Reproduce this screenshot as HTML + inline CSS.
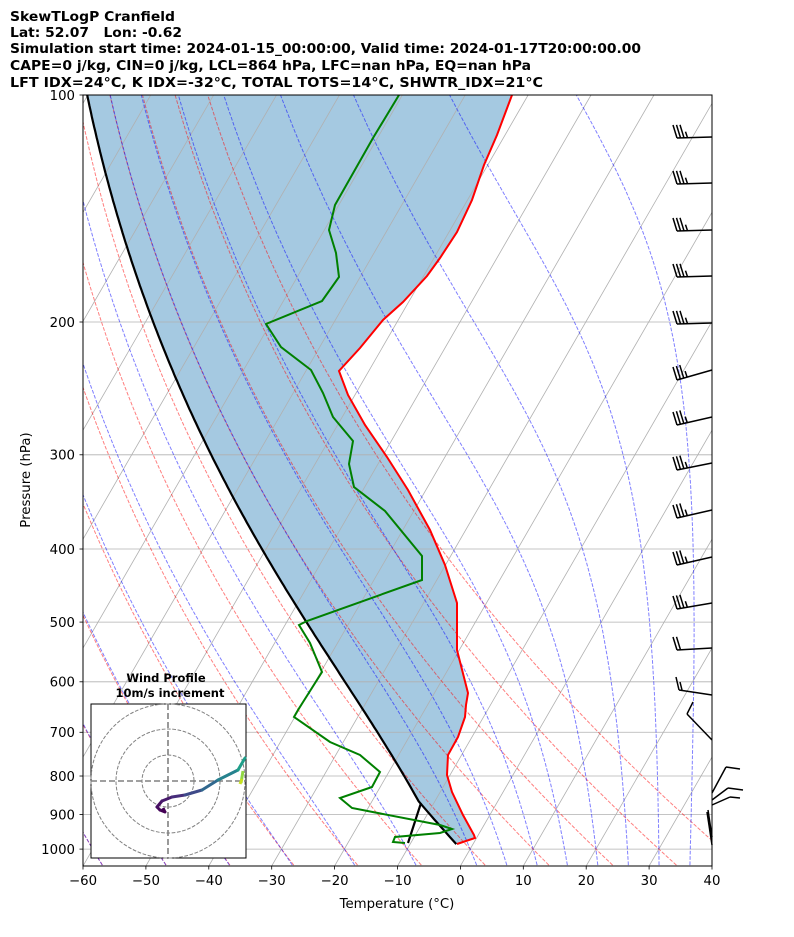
<!DOCTYPE html>
<html><head><meta charset="utf-8"><style>
html,body{margin:0;padding:0;background:#fff;}
svg{display:block;font-family:"DejaVu Sans","Liberation Sans",sans-serif;}
</style></head><body>
<svg id="s" width="794" height="937" xmlns="http://www.w3.org/2000/svg">
<defs><clipPath id="c"><rect x="83" y="95" width="629" height="771"/></clipPath></defs>
<g font-weight="bold" font-size="13.3" fill="#000">
<text x="10" y="21" textLength="165" lengthAdjust="spacingAndGlyphs">SkewTLogP Cranfield</text>
<text x="10" y="37" textLength="172" lengthAdjust="spacingAndGlyphs" xml:space="preserve">Lat: 52.07   Lon: -0.62</text>
<text x="10" y="53" textLength="631" lengthAdjust="spacingAndGlyphs">Simulation start time: 2024-01-15_00:00:00, Valid time: 2024-01-17T20:00:00.00</text>
<text x="10" y="70" textLength="521" lengthAdjust="spacingAndGlyphs">CAPE=0 j/kg, CIN=0 j/kg, LCL=864 hPa, LFC=nan hPa, EQ=nan hPa</text>
<text x="10" y="87" textLength="533" lengthAdjust="spacingAndGlyphs">LFT IDX=24°C, K IDX=-32°C, TOTAL TOTS=14°C, SHWTR_IDX=21°C</text>
</g>
<g id="plot" clip-path="url(#c)"></g>
<g id="over"></g>
<rect x="83" y="95" width="629" height="771" fill="none" stroke="#000" stroke-width="1"/>
<g id="ax" font-size="13.3" fill="#000"></g>
<text x="30" y="480" font-size="13.3" text-anchor="middle" transform="rotate(-90 30 480)">Pressure (hPa)</text>
<text x="397" y="908" font-size="13.3" text-anchor="middle">Temperature (°C)</text>
</svg>
<script>
var NS="http://www.w3.org/2000/svg";
function Y(p){return 95+327.5*Math.log(p/100);}
var K=0.57735;
function X(T,p){return 83+(T+60)*6.29+K*(866-Y(p));}
function el(par,tag,a){var e=document.createElementNS(NS,tag);for(var k in a)e.setAttribute(k,a[k]);par.appendChild(e);return e;}
var plot=document.getElementById('plot'),ax=document.getElementById('ax'),over=document.getElementById('over');
function pts(a){return a.map(function(q){return q[0].toFixed(1)+','+q[1].toFixed(1);}).join(' ');}
// parcel
var Rd=287.04,Cp=1004.67,Lv=2.501e6,eps=0.622;
function es(Tk){var c=Tk-273.15;return 6.112*Math.exp(17.67*c/(c+243.5));}
function dTdlnp(T,p){var e=es(T);var rs=eps*e/(p-e);return (Rd*T+Lv*rs)/(Cp+Lv*Lv*rs*eps/(Rd*T*T));}
function moist(T0,p0,p1,n){var out=[[T0,p0]];var T=T0,lp=Math.log(p0),h=(Math.log(p1)-lp)/n;
 for(var i=0;i<n;i++){var p=Math.exp(lp);var k1=dTdlnp(T,p),k2=dTdlnp(T+h/2*k1,Math.exp(lp+h/2)),k3=dTdlnp(T+h/2*k2,Math.exp(lp+h/2)),k4=dTdlnp(T+h*k3,Math.exp(lp+h));
 T+=h/6*(k1+2*k2+2*k3+k4);lp+=h;out.push([T,Math.exp(lp)]);}return out;}
var parcel=[];var Ts=273.15-2.65,ps=985,pl=864;
for(var i=0;i<=10;i++){var p=ps+(pl-ps)*i/10;parcel.push([X(Ts*Math.pow(p/ps,0.2857)-273.15,p),Y(p)]);}
var Tl=Ts*Math.pow(pl/ps,0.2857);
moist(Tl,pl,100,200).slice(1).forEach(function(q){parcel.push([X(q[0]-273.15,q[1]),Y(q[1])]);});
var temp=[[512,95],[497,135],[484,165],[472,200],[457,232],[440,258],[427,276],[403,302],[383,320],[360,348],[339,371],[348,395],[365,425],[387,457],[408,490],[430,530],[445,565],[457,603],[457,650],[468,693],[466,705],[465,717],[458,737],[448,755],[447,775],[452,792],[463,815],[474,835],[475,838],[457,844]];
var dew=[[399,95],[373,138],[335,205],[329,230],[336,253],[339,277],[322,301],[266,324],[281,347],[311,370],[323,393],[333,417],[353,441],[349,464],[354,487],[385,511],[422,556],[422,580],[307,621],[299,625],[310,643],[322,672],[298,710],[294,717],[330,742],[360,755],[380,772],[372,787],[340,798],[352,808],[440,825],[452,829],[440,833],[395,837],[393,842],[405,843]];
el(plot,'polygon',{points:pts(parcel.concat(temp)),fill:'#1f77b4','fill-opacity':0.4,stroke:'none'});
// grid
for(var p=100;p<=1000;p+=100)el(plot,'line',{x1:83,x2:712,y1:Y(p),y2:Y(p),stroke:'#b0b0b0','stroke-width':0.8});
for(var T=-160;T<=40;T+=10){var x0=83+(T+60)*6.29;el(plot,'line',{x1:x0,y1:866,x2:x0+K*771,y2:95,stroke:'#b0b0b0','stroke-width':0.8});}
// dry adiabats
for(var t0=-60;t0<=40;t0+=10){var a=[];for(var p=1050;p>=100;p-=10){a.push([X((t0+273.15)*Math.pow(p/1000,0.2857)-273.15,p),Y(p)]);}
 el(plot,'polyline',{points:pts(a),fill:'none',stroke:'red','stroke-opacity':0.5,'stroke-width':1,'stroke-dasharray':'3.7,1.6'});}
// moist adiabats
var mt=[];for(var t=-60;t<0;t+=10)mt.push(t);for(var t=0;t<=40;t+=5)mt.push(t);
mt.forEach(function(t0){var up=moist(t0+273.15,1000,100,150),dn=moist(t0+273.15,1000,1050,10);
 var a=dn.reverse().concat(up.slice(1)).map(function(q){return [X(q[0]-273.15,q[1]),Y(q[1])];});
 el(plot,'polyline',{points:pts(a),fill:'none',stroke:'blue','stroke-opacity':0.5,'stroke-width':1,'stroke-dasharray':'3.7,1.6'});});
// traces
el(plot,'polyline',{points:pts(parcel),fill:'none',stroke:'#000','stroke-width':2.2});
el(plot,'polyline',{points:'408,843 421,803',fill:'none',stroke:'#000','stroke-width':2.2});
el(plot,'polyline',{points:pts(temp),fill:'none',stroke:'red','stroke-width':2});
el(plot,'polyline',{points:pts(dew),fill:'none',stroke:'green','stroke-width':2});
// barbs
function line(x1,y1,x2,y2,w){el(over,'line',{x1:x1,y1:y1,x2:x2,y2:y2,stroke:'#000','stroke-width':w||1.5});}
var up=[[137,138,3],[183,184,3],[230,231,3],[276,277,3],[323,324,3],[370,380,3],[417,425,3],[463,470,3],[510,518,3],[557,565,3],[603,609,3],[648,650,2]];
up.forEach(function(b){var y0=b[0],ye=b[1],xe=677;line(712,y0,xe,ye);
 var dx=(712-xe),dy=(y0-ye),L=Math.sqrt(dx*dx+dy*dy),ux=dx/L,uy=dy/L;
 for(var i=0;i<b[2];i++){var bx=xe+ux*3.5*i,by=ye+uy*3.5*i;line(bx,by,bx-4+uy*0,by-13);}
 if(b[2]==3){var bx=xe+ux*10.5,by=ye+uy*10.5;line(bx,by,bx-2,by-6);}});
line(712,695,679,690);line(679,690,676,677);line(682,690,680,682);
line(712,740,687,714);line(687,714,693,702);
line(712,793,726,767);line(726,767,740,769);
line(712,800,728,788);line(728,788,743,790);
line(712,805,730,797);line(730,797,740,798);
line(712,837,708,810);line(712,845,707,812);
// hodograph
el(over,'rect',{x:91,y:704,width:155,height:154,fill:'#fff',stroke:'#000','stroke-width':1});
[26,52,77].forEach(function(r){el(over,'circle',{cx:168,cy:781,r:r,fill:'none',stroke:'#808080','stroke-width':1,'stroke-dasharray':'3.7,1.6'});});
el(over,'line',{x1:168,y1:704,x2:168,y2:858,stroke:'#808080','stroke-width':1.6,'stroke-dasharray':'6,3'});
el(over,'line',{x1:91,y1:781,x2:246,y2:781,stroke:'#808080','stroke-width':1.6,'stroke-dasharray':'6,3'});
var hp=[[165,812],[160,810],[157,807],[162,801],[172,797],[185,795],[202,790],[218,780],[238,770],[245,758]];
var cols=['#440154','#46085c','#471063','#481a6c','#472d7b','#3e4a89','#31688e','#26828e','#1f9e89','#35b779'];
for(var i=0;i<hp.length-1;i++)el(over,'line',{x1:hp[i][0],y1:hp[i][1],x2:hp[i+1][0],y2:hp[i+1][1],stroke:cols[i],'stroke-width':3,'stroke-linecap':'round'});
el(over,'polyline',{points:'165,812 163,808',fill:'none',stroke:'#440154','stroke-width':3});
el(over,'line',{x1:243,y1:771,x2:241,y2:783,stroke:'#90d743','stroke-width':3});
el(over,'line',{x1:242,y1:779,x2:240,y2:784,stroke:'#c8e020','stroke-width':3});
el(over,'text',{x:166,y:682,'font-size':11.5,'font-weight':'bold','text-anchor':'middle'}).textContent='Wind Profile';
el(over,'text',{x:170,y:697,'font-size':11.5,'font-weight':'bold','text-anchor':'middle'}).textContent='10m/s increment';
// axes ticks
for(var p=100;p<=1000;p+=100){var y=Y(p);line(79.5,y,83,y,0.8);el(ax,'text',{x:75,y:y+4.8,'text-anchor':'end'}).textContent=String(p);}
for(var T=-60;T<=40;T+=10){var x=83+(T+60)*6.29;line(x,866,x,869.5,0.8);el(ax,'text',{x:x,y:885,'text-anchor':'middle'}).textContent=(T<0?'\u2212'+(-T):String(T));}
</script>
</body></html>
